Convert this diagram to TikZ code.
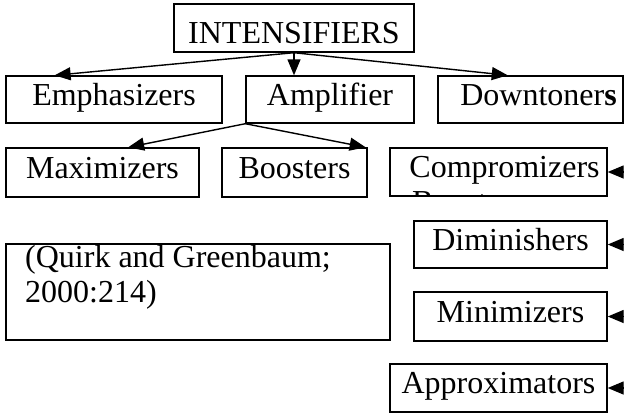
\documentclass[tikz,border=0pt]{standalone}
\usepackage{fontspec}
\setmainfont{Liberation Serif}
\usetikzlibrary{positioning,calc,arrows.meta}

\begin{document}
\begin{tikzpicture}[x=1pt, y=-1pt,
  catbox/.style={draw, line width=1.4pt, inner sep=0pt, font=\fontsize{32}{35}\selectfont, text height=18pt, text depth=7pt},
  link/.style={line width=1.4pt, -{Triangle[length=16pt, width=13pt]}}]
  \clip (0,0) rectangle (624,413);
  % Top
  \node[catbox, minimum width=240pt, minimum height=48pt, text height=37pt] (n_int) at (294,28) {INTENSIFIERS};

  % First row
  \node[catbox, minimum width=216pt, minimum height=47pt] (n_emph) at (114,99.5) {Emphasizers};
  \node[catbox, minimum width=168pt, minimum height=47pt] (n_amp) at (330,99.5) {Amplifier};
  \node[catbox, minimum width=185pt, minimum height=47pt] (n_down) at (530.5,99.5) {\hspace*{16pt}Downtoner\textbf{s}};

  % Second row
  \node[catbox, minimum width=193pt, minimum height=49pt] (n_max) at (102.5,172.5) {Maximizers};
  \node[catbox, minimum width=145pt, minimum height=49pt] (n_boost) at (294.5,172.5) {Boosters};
  \node[catbox, minimum width=217pt, minimum height=48pt] (n_comp) at (498.5,172) {\hspace*{12pt}Compromizers};
  \begin{scope}
    \clip (n_comp.north west) rectangle (n_comp.south east);
    \node[anchor=base west, inner sep=0pt, font=\fontsize{32}{35}\selectfont] (n_hidden) at (412,212) {Boosters};
  \end{scope}

  % Downtoner column
  \node[catbox, minimum width=193pt, minimum height=47pt] (n_dim) at (510.5,244.5) {Diminishers};
  \node[catbox, minimum width=193pt, minimum height=49pt] (n_min) at (510.5,316.5) {Minimizers};
  \node[catbox, minimum width=217pt, minimum height=48pt] (n_appr) at (498.5,388) {Approximators};

  % Source
  \node[catbox, minimum width=384pt, minimum height=96pt] (n_cite) at (198,292) {};
  \node[anchor=north west, inner sep=0pt, align=left, font=\fontsize{32}{35}\selectfont] (n_cite_txt) at (25,245) {(Quirk and Greenbaum;\\2000:214)};

  % Arrows
  \draw[link] (n_int.south) -- ($(n_emph.north west)!0.227!(n_emph.north east)$);
  \draw[link] (n_int.south) -- (n_int.south |- n_amp.north);
  \draw[link] (n_int.south) -- ($(n_down.north west)!0.378!(n_down.north east)$);
  \draw[link] (n_amp.south west) -- ($(n_max.north west)!0.632!(n_max.north east)$);
  \draw[link] (n_amp.south west) -- ($(n_boost.north west)!0.986!(n_boost.north east)$);
  \foreach \n in {n_comp, n_dim, n_min, n_appr}
    \draw[link] ($(\n.east)+(40,0)$) -- (\n.east);
\end{tikzpicture}
\end{document}
